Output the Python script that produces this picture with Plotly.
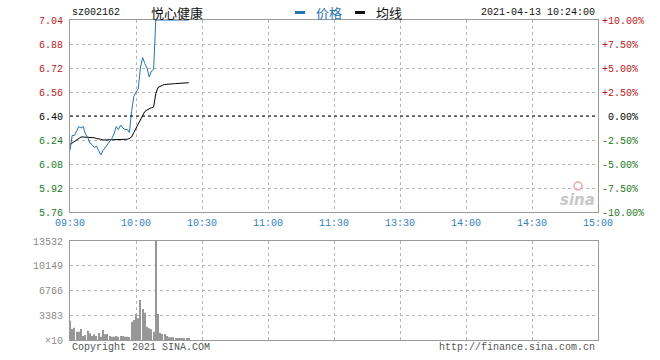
import plotly.graph_objects as go

# ---------------- data ----------------
STOCK_CODE = "sz002162"
STOCK_NAME = "悦心健康"
TIMESTAMP = "2021-04-13 10:24:00"
PREV_CLOSE = 6.40

# one value per minute from 09:30 to 10:24
PRICE = [6.17, 6.27, 6.27, 6.30, 6.33, 6.32, 6.33, 6.28, 6.26, 6.22,
         6.21, 6.19, 6.20, 6.17, 6.14, 6.17, 6.19, 6.21, 6.23, 6.25,
         6.28, 6.33, 6.31, 6.34, 6.32, 6.31, 6.31, 6.29, 6.43, 6.53,
         6.56, 6.58, 6.72, 6.79, 6.75, 6.72, 6.66, 6.70, 6.71, 7.04,
         7.04, 7.04, 7.04, 7.04, 7.04, 7.04, 7.04, 7.04, 7.04, 7.04,
         7.04, 7.04, 7.04, 7.04, 7.04]
AVG = [6.21, 6.22, 6.23, 6.24, 6.25, 6.26, 6.26, 6.26, 6.26, 6.26,
       6.26, 6.255, 6.25, 6.25, 6.245, 6.24, 6.24, 6.24, 6.24, 6.24,
       6.24, 6.24, 6.24, 6.245, 6.245, 6.245, 6.245, 6.25, 6.26, 6.29,
       6.32, 6.35, 6.38, 6.41, 6.43, 6.44, 6.45, 6.455, 6.46, 6.55,
       6.59, 6.60, 6.605, 6.61, 6.61, 6.612, 6.614, 6.615, 6.616, 6.617,
       6.618, 6.619, 6.62, 6.621, 6.622]
VOLUME = [2640, 1500, 1690, 1140, 1120, 1500, 550, 680, 1280, 910,
          550, 780, 550, 960, 460, 1370, 780, 820, 550, 460,
          460, 550, 460, 550, 550, 460, 460, 400, 2510, 2730,
          3550, 2960, 5470, 4240, 3730, 1820, 1590, 1460, 1140, 13532,
          3550, 1000, 820, 820, 550, 360, 360, 360, 230, 230,
          230, 230, 140, 140, 140]

TIME_TICKS = [0, 30, 60, 90, 120, 150, 180, 210, 240]
TIME_LABELS = ["09:30", "10:00", "10:30", "11:00", "11:30", "13:30", "14:00", "14:30", "15:00"]
PRICE_TICKS = [5.76, 5.92, 6.08, 6.24, 6.40, 6.56, 6.72, 6.88, 7.04]
PCT_LABELS = ["-10.00%", "-7.50%", "-5.00%", "-2.50%", "\u00a00.00%",
              "+2.50%", "+5.00%", "+7.50%", "+10.00%"]
VOL_TICKS = [0, 3383, 6766, 10149, 13532]
VOL_LABELS = ["×10", "3383", "6766", "10149", "13532"]

# ---------------- styling ----------------
W, H = 660, 360
L, R = 70, 598
P_TOP, P_BOT = 20, 212
V_TOP, V_BOT = 241, 340
RED = "#b8201c"
GREEN = "#237a23"
BLUE = "#2474b0"
MONO = "Liberation Mono"
GRID = "#b4b4b4"
BORDER = "#9a9a9a"


def px_x(p):
    return p / W


def px_y(p):
    return 1 - p / H


def colored(vals, labels):
    out = []
    for v, t in zip(vals, labels):
        if v > PREV_CLOSE + 1e-9:
            c = RED
        elif v < PREV_CLOSE - 1e-9:
            c = GREEN
        else:
            c = "#000000"
        out.append(f"<span style='color:{c}'>{t}</span>")
    return out


minutes = list(range(len(PRICE)))

fig = go.Figure()
fig.add_trace(go.Bar(x=minutes, y=VOLUME, xaxis="x2", yaxis="y2",
                     width=0.5, marker=dict(color="#979797", line=dict(width=0)),
                     hoverinfo="skip", showlegend=False))
fig.add_trace(go.Scatter(x=minutes, y=AVG, mode="lines", xaxis="x", yaxis="y",
                         line=dict(color="#000000", width=1), showlegend=False))
fig.add_trace(go.Scatter(x=minutes, y=PRICE, mode="lines", xaxis="x", yaxis="y",
                         line=dict(color=BLUE, width=1), showlegend=False))
# invisible trace to carry the right-hand percentage axis
fig.add_trace(go.Scatter(x=[minutes[0]], y=[PREV_CLOSE], mode="markers", xaxis="x", yaxis="y3",
                         marker=dict(opacity=0), hoverinfo="skip", showlegend=False))

fig.add_shape(type="line", xref="x", yref="y", x0=TIME_TICKS[0], x1=TIME_TICKS[-1],
              y0=PREV_CLOSE, y1=PREV_CLOSE, line=dict(color="#000000", width=1, dash="dot"))

common_x = dict(range=[TIME_TICKS[0], TIME_TICKS[-1]], tickvals=TIME_TICKS, showgrid=True,
                gridcolor=GRID, griddash="dot", gridwidth=1, showline=True, mirror=True,
                linecolor=BORDER, linewidth=1, ticks="", zeroline=False, fixedrange=True,
                automargin=False, domain=[px_x(L), px_x(R)])

fig.update_layout(
    template="none",
    width=W, height=H, margin=dict(l=0, r=0, t=0, b=0, pad=0),
    paper_bgcolor="white", plot_bgcolor="white",
    showlegend=False,
    xaxis=dict(**common_x, anchor="y", ticktext=TIME_LABELS, ticklabelstandoff=1,
               tickfont=dict(family=MONO, size=10, color="#3282bc")),
    yaxis=dict(domain=[px_y(P_BOT), px_y(P_TOP)], range=[PRICE_TICKS[0], PRICE_TICKS[-1]],
               tickvals=PRICE_TICKS, ticktext=colored(PRICE_TICKS, [f"{v:.2f}" for v in PRICE_TICKS]),
               showgrid=True, gridcolor=GRID, griddash="dot", showline=True, mirror=True,
               linecolor=BORDER, ticks="", zeroline=False, anchor="x", fixedrange=True,
               automargin=False, ticklabelstandoff=4, tickfont=dict(family=MONO, size=10)),
    yaxis3=dict(overlaying="y", side="right", anchor="x", range=[PRICE_TICKS[0], PRICE_TICKS[-1]],
                tickvals=PRICE_TICKS, ticktext=colored(PRICE_TICKS, PCT_LABELS),
                showgrid=False, showline=False, ticks="", zeroline=False, fixedrange=True,
                automargin=False, ticklabelstandoff=3, tickfont=dict(family=MONO, size=10)),
    xaxis2=dict(**common_x, anchor="y2", matches="x", showticklabels=False),
    yaxis2=dict(domain=[px_y(V_BOT), px_y(V_TOP)], range=[VOL_TICKS[0], VOL_TICKS[-1]],
                tickvals=VOL_TICKS, ticktext=VOL_LABELS, showgrid=True, gridcolor=GRID,
                griddash="dot", showline=True, mirror=True, linecolor=BORDER, ticks="",
                zeroline=False, anchor="x2", fixedrange=True, automargin=False,
                ticklabelstandoff=4, tickfont=dict(family=MONO, size=10, color="#8a8a8a")),
)

ann = []
ann.append(dict(x=px_x(70), y=px_y(13), text=STOCK_CODE, xanchor="left", yanchor="middle",
                font=dict(family=MONO, size=10, color="#111111")))
ann.append(dict(x=px_x(177), y=px_y(13), text=STOCK_NAME, xanchor="center", yanchor="middle",
                font=dict(family="Noto Sans CJK SC", size=13, color="#111111")))
ann.append(dict(x=px_x(314), y=px_y(13), text="价格", xanchor="left", yanchor="middle",
                font=dict(family="Noto Sans CJK SC", size=13, color=BLUE)))
ann.append(dict(x=px_x(374), y=px_y(13), text="均线", xanchor="left", yanchor="middle",
                font=dict(family="Noto Sans CJK SC", size=13, color="#111111")))
ann.append(dict(x=px_x(597), y=px_y(13), text=TIMESTAMP, xanchor="right", yanchor="middle",
                font=dict(family=MONO, size=10, color="#111111")))
ann.append(dict(x=px_x(70), y=px_y(347), text="Copyright 2021 SINA.COM", xanchor="left",
                yanchor="middle", font=dict(family=MONO, size=10, color="#555555")))
ann.append(dict(x=px_x(597), y=px_y(347), text="http://finance.sina.com.cn", xanchor="right",
                yanchor="middle", font=dict(family=MONO, size=10, color="#555555")))
ann.append(dict(x=px_x(597), y=px_y(200), text="<b><i>sina</i></b>", xanchor="right",
                yanchor="middle", font=dict(family="DejaVu Sans", size=15, color="#c8c8c8")))
for a in ann:
    a.update(xref="paper", yref="paper", showarrow=False)
fig.update_layout(annotations=ann)

# legend swatches
fig.add_shape(type="line", xref="paper", yref="paper", x0=px_x(295), x1=px_x(305),
              y0=px_y(12.5), y1=px_y(12.5), line=dict(color=BLUE, width=3))
fig.add_shape(type="line", xref="paper", yref="paper", x0=px_x(355), x1=px_x(365),
              y0=px_y(12.5), y1=px_y(12.5), line=dict(color="#111111", width=3))
# small logo mark above the watermark
fig.add_shape(type="circle", xref="paper", yref="paper", x0=px_x(574), x1=px_x(582),
              y0=px_y(190), y1=px_y(182), line=dict(color="#e9a7a7", width=1.5),
              fillcolor="rgba(0,0,0,0)")

fig.write_html("out.html")
